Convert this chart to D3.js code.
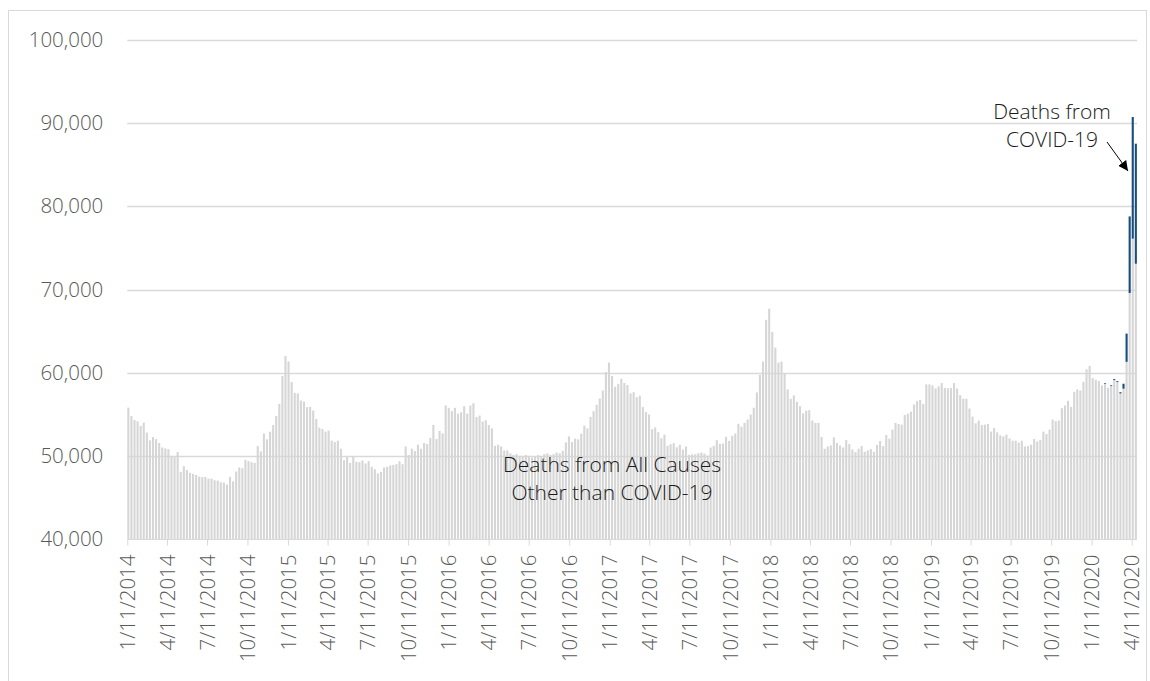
<!DOCTYPE html>
<html lang="en">
  <head>
    <meta charset="UTF-8" />
    <title>Weekly deaths</title>
    <script src="https://d3js.org/d3.v7.min.js"></script>
    <style>
      body { margin: 0; background: #fff; }
      text { font-family: "Open Sans", Lato, sans-serif; }
      .tick text { fill: #595959; font-size: 20.5px; font-weight: 300; }
      .note { fill: #1a1a1a; font-size: 21px; font-weight: 300; }
    </style>
  </head>
  <body>
    <svg width="1150" height="681"></svg>
<script>

// first week ending date, one bar per week after it
var startWeek = "1/11/2014";

// deaths from all causes other than COVID-19, week by week
var otherDeaths = [
  55800, 54800, 54300, 54150, 53600, 54000, 52800, 51860, 52260, 52000,
  51540, 51000, 50900, 50800, 50000, 49850, 50450, 48070, 48750, 48300,
  47950, 47830, 47700, 47500, 47430, 47460, 47260, 47260, 47060, 47020,
  46820, 46780, 46540, 47460, 46940, 48110, 48600, 48510, 49520, 49360,
  49240, 49160, 51170, 50530, 52670, 51980, 52900, 53700, 54800, 56250,
  59600, 62000, 61350, 58870, 57580,
  57500, 56650, 56530, 55850, 55890, 55450, 54440, 53390, 53230, 52910,
  53030, 51820, 51660, 51820, 50850, 49480, 49840, 49160, 49880, 49280,
  49240, 49440, 49080, 49360, 48680, 48390, 47870, 48070, 48600, 48680,
  48840, 48920, 49000, 49360, 49000, 51130, 50090, 50850, 50570, 51340,
  50850, 51540, 51420, 52140, 53710, 52020, 52990, 52710, 56050, 55770,
  55370, 55770, 55080, 55240, 55970, 55080,
  56050, 56330, 54680, 54840, 54120, 54280, 53710, 53310, 51210, 51340,
  51130, 50650, 50650, 50300, 50100, 50200, 50000, 49900, 50100, 50000,
  49800, 49900, 50100, 50000, 50200, 50300, 50100, 50200, 50400, 50300,
  50600, 51620, 52340, 51660, 52060, 51980, 52670, 53630, 53310, 54680,
  55370, 56130, 56900, 57860, 60080, 61210, 59600, 58310, 58630, 59270,
  58750, 58510, 57500, 57650, 57050,
  57230, 55860, 55260, 54970, 53200, 53410, 52840, 52120, 52560, 51200,
  51400, 51520, 51030, 51320, 50750, 51120, 50110, 50190, 50190, 50310,
  50390, 50270, 50030, 51000, 51200, 51880, 51440, 51480, 52280, 51800,
  52400, 52680, 53850, 53490, 53970, 54370, 54970, 55780, 57630, 59720,
  61330, 66350, 67680, 64900, 63020, 61210, 61330, 59840, 57990, 56860,
  57270, 56500, 55980, 55100, 55420,
  55490, 54240, 53960, 53960, 52260, 50850, 51130, 51250, 52220, 51540,
  51250, 51010, 51900, 51420, 50770, 50450, 50850, 51170, 50490, 50650,
  50810, 50490, 51300, 51780, 51170, 52500, 52060, 53150, 53960, 53830,
  53750, 54920, 55080, 55320, 56170, 56570, 56730, 56250, 58590, 58590,
  58470, 58110, 58350, 58750, 58150, 58110, 58150, 58750, 58110, 57300,
  56860, 56860, 55690, 54720, 53910,
  54240, 53710, 53750, 53830, 52910, 53350, 52830, 52460, 52340, 52540,
  52100, 51820, 51820, 51580, 51820, 51130, 51170, 51340, 52020, 51740,
  51900, 52910, 52620, 53150, 54360, 54160, 54240, 55730, 56050, 56610,
  55890, 57700, 57990, 57860, 58910, 60400, 60810, 59350, 59150, 58990,
  58470, 58670, 58190, 58390, 59110, 58870, 57500, 58070, 61300, 69580,
  76110, 73100
];

// deaths from COVID-19 (all other weeks are zero)
var covidWeeks = ["2/8/2020", "2/22/2020", "2/29/2020", "3/7/2020", "3/14/2020",
                  "3/21/2020", "3/28/2020", "4/4/2020", "4/11/2020", "4/18/2020"];
var covidDeaths = [80, 90, 120, 110, 150, 600, 3400, 9210, 14630, 14430];

var yTicks = [40000, 50000, 60000, 70000, 80000, 90000, 100000];

var xTickLabels = [
  "1/11/2014", "4/11/2014", "7/11/2014", "10/11/2014",
  "1/11/2015", "4/11/2015", "7/11/2015", "10/11/2015",
  "1/11/2016", "4/11/2016", "7/11/2016", "10/11/2016",
  "1/11/2017", "4/11/2017", "7/11/2017", "10/11/2017",
  "1/11/2018", "4/11/2018", "7/11/2018", "10/11/2018",
  "1/11/2019", "4/11/2019", "7/11/2019", "10/11/2019",
  "1/11/2020", "4/11/2020"
];

var parse = d3.utcParse("%m/%d/%Y");
var start = parse(startWeek);

var covidByDate = {};
covidWeeks.forEach(function (d, i) { covidByDate[+parse(d)] = covidDeaths[i]; });

var data = otherDeaths.map(function (v, i) {
  var date = d3.utcDay.offset(start, 7 * i);
  return { date: date, other: v, covid: covidByDate[+date] || 0 };
});

var svg = d3.select("svg");

// outer frame
svg.append("rect")
   .attr("x", 8.5).attr("y", 10.5)
   .attr("width", 1138).attr("height", 690)
   .attr("fill", "none")
   .attr("stroke", "#d9d9d9");

var left = 127.3, right = 1137;

var xScale = d3.scaleUtc()
    .domain([parse(xTickLabels[0]), parse(xTickLabels[xTickLabels.length - 1])])
    .range([127.3, 1131.7]);

var yScale = d3.scaleLinear()
    .domain([40000, 100000])
    .range([539, 40]);

// gridlines
svg.append("g")
   .selectAll("line")
   .data(yTicks.slice(1))
   .enter().append("line")
   .attr("x1", left).attr("x2", right)
   .attr("y1", function (d) { return Math.round(yScale(d)) + 0.5; })
   .attr("y2", function (d) { return Math.round(yScale(d)) + 0.5; })
   .attr("stroke", "#d9d9d9")
   .attr("stroke-width", 1.3);

var barW = 2.1;

svg.append("g")
   .selectAll("rect")
   .data(data)
   .enter().append("rect")
   .attr("x", function (d) { return xScale(d.date); })
   .attr("y", function (d) { return yScale(d.other); })
   .attr("width", barW)
   .attr("height", function (d) { return yScale(40000) - yScale(d.other); })
   .attr("fill", "#d6d6d6");

svg.append("g")
   .selectAll("rect")
   .data(data.filter(function (d) { return d.covid > 0; }))
   .enter().append("rect")
   .attr("x", function (d) { return xScale(d.date); })
   .attr("y", function (d) { return yScale(d.other + d.covid); })
   .attr("width", barW)
   .attr("height", function (d) { return yScale(d.other) - yScale(d.other + d.covid); })
   .attr("fill", "#174e7c");

// y axis labels
var yAxis = svg.append("g")
   .attr("transform", "translate(" + left + ",0)")
   .call(d3.axisLeft(yScale).tickValues(yTicks).tickFormat(d3.format(",")).tickSize(0).tickPadding(24));
yAxis.select(".domain").remove();

// x axis
var xAxis = svg.append("g")
   .attr("transform", "translate(0,539.5)")
   .call(d3.axisBottom(xScale)
     .tickValues(xTickLabels.map(parse))
     .tickFormat(function (d, i) { return xTickLabels[i]; })
     .tickSize(6)
     .tickSizeOuter(0));
xAxis.select(".domain").attr("stroke", "#d9d9d9").attr("d", "M" + left + ",0H" + right);
xAxis.selectAll(".tick line").attr("stroke", "#d9d9d9");
xAxis.selectAll(".tick text")
     .attr("transform", "rotate(-90)")
     .attr("text-anchor", "end")
     .attr("x", -15)
     .attr("y", 0)
     .attr("dy", "0.35em");

// annotations
var notes = svg.append("g").attr("class", "notes");
notes.append("text").attr("class", "note")
     .attr("x", 612).attr("y", 471.5).attr("text-anchor", "middle")
     .text("Deaths from All Causes");
notes.append("text").attr("class", "note")
     .attr("x", 612).attr("y", 500).attr("text-anchor", "middle")
     .text("Other than COVID-19");
notes.append("text").attr("class", "note")
     .attr("x", 1052).attr("y", 118.5).attr("text-anchor", "middle")
     .text("Deaths from");
notes.append("text").attr("class", "note")
     .attr("x", 1052).attr("y", 147).attr("text-anchor", "middle")
     .text("COVID-19");

svg.append("defs").append("marker")
   .attr("id", "head")
   .attr("viewBox", "0 0 10 10")
   .attr("refX", 10).attr("refY", 5)
   .attr("markerWidth", 10).attr("markerHeight", 10)
   .attr("markerUnits", "userSpaceOnUse")
   .attr("orient", "auto")
   .append("path")
   .attr("d", "M0,0L10,5L0,10z")
   .attr("fill", "#000");

svg.append("line")
   .attr("x1", 1107).attr("y1", 142)
   .attr("x2", 1128).attr("y2", 171)
   .attr("stroke", "#000")
   .attr("stroke-width", 1)
   .attr("marker-end", "url(#head)");

</script>
  </body>
</html>
